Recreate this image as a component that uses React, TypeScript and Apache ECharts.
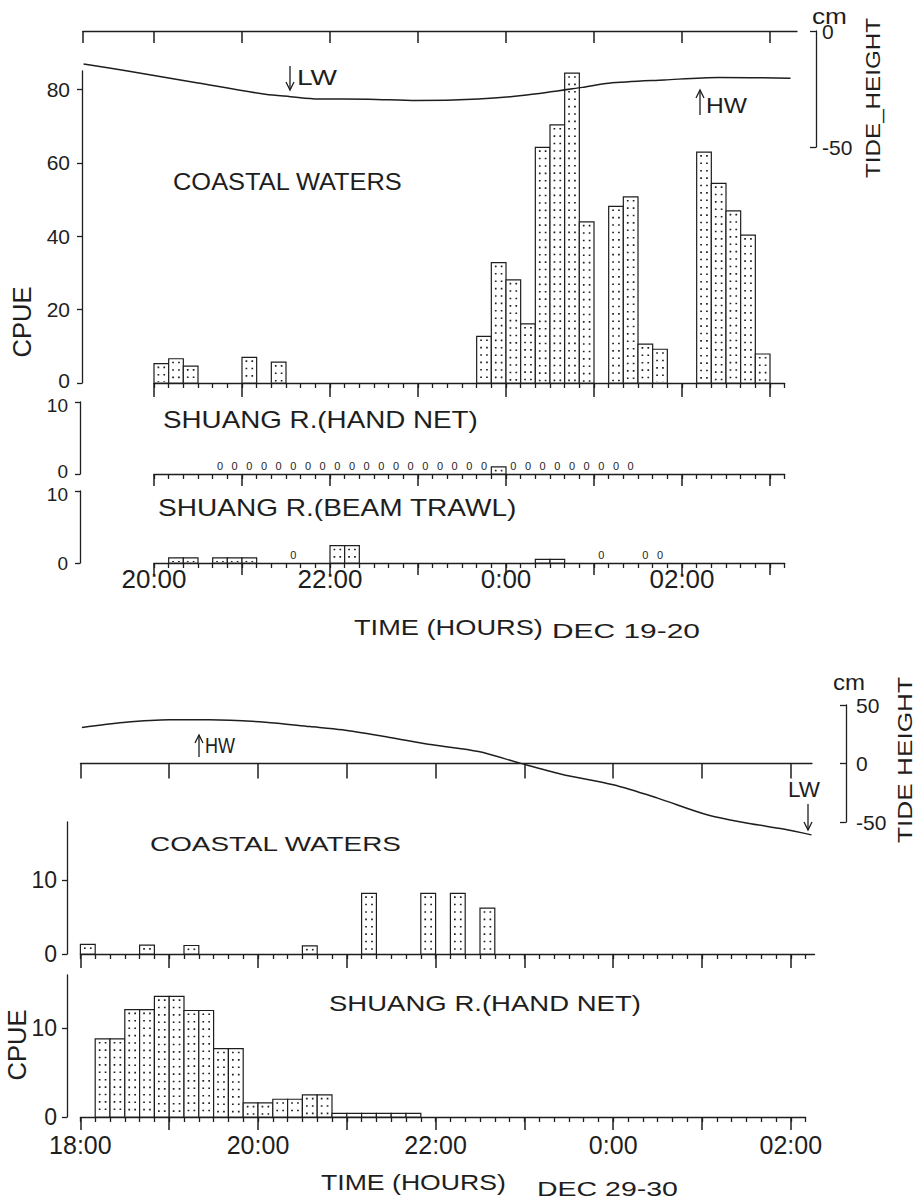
import React, { useEffect, useRef } from "react";
import * as echarts from "echarts";

const BIN = 10; // minutes per sampling bin

// ---------- DEC 19-20 (minutes after 20:00, 10-min bins) ----------
const coastalDec19 = [5.3, 6.6, 4.6, 0, 0, 0, 7.0, 0, 5.7, 0, 0, 0, 0, 0, 0, 0, 0, 0, 0, 0, 0, 0,
  12.7, 32.8, 28.1, 16.1, 64.2, 70.3, 84.4, 43.9, 0, 48.1, 50.7, 10.6, 9.2, 0, 0, 62.9, 54.4, 46.9, 40.3, 7.9];
const handNetDec19 = [null, null, null, null, 0, 0, 0, 0, 0, 0, 0, 0, 0, 0, 0, 0, 0, 0, 0, 0, 0, 0, 0,
  1.0, 0, 0, 0, 0, 0, 0, 0, 0, 0];
const beamTrawlDec19 = [null, 0.7, 0.7, null, 0.7, 0.7, 0.7, null, null, 0, null, null, 2.4, 2.4,
  null, null, null, null, null, null, null, null, null, null, null, null, 0.5, 0.5, null, null, 0, null, null, 0, 0];
const tideDec19Time = [-48, -19, 29, 76, 93, 112, 146, 179, 221, 254, 292, 310, 348, 385, 434];
const tideDec19Height = [-14.2, -17.1, -22.3, -27.3, -28.3, -29.3, -29.4, -30.0, -29.3, -27.6, -24.3, -22.5, -21.1, -20.0, -20.4];
const dec19Range = [0, 430];
const tideDec19Range = [-48.4, 438.4];
const dec19Hours = [0, 60, 120, 180, 240, 300, 360, 420];
const dec19LabelValues = [0, 120, 240, 360];
const dec19Labels = ["20:00", "22:00", "0:00", "02:00"];
const coastalDec19Ticks = [0, 20, 40, 60, 80];
const riverDec19Ticks = [0, 10];
const tideDec19Ticks = [-50, 0];

// ---------- DEC 29-30 (minutes after 18:00, 10-min bins) ----------
const coastalDec29 = [1.3, 0, 0, 0, 1.2, 0, 0, 1.15, 0, 0, 0, 0, 0, 0, 0, 1.1, 0, 0, 0, 8.2, 0, 0, 0, 8.2, 0, 8.2, 0, 6.2];
const handNetDec29 = [null, 8.8, 8.8, 12.1, 12.1, 13.6, 13.6, 12.0, 12.0, 7.7, 7.7, 1.6, 1.6, 2.0, 2.0, 2.5, 2.5,
  0.4, 0.4, 0.4, 0.4, 0.4, 0.4];
const tideDec29Time = [1, 29, 60, 87, 125, 155, 177, 208, 238, 269, 297, 325, 360, 390, 424, 451, 475, 494];
const tideDec29Height = [30.8, 35, 37.3, 37.3, 35.3, 31.6, 28.8, 22.5, 16, 10.3, 0.3, -9.1, -18.2, -29.6, -44, -51, -56, -61];
const coastalDec29Range = [0, 496];
const handDec29Range = [0, 490];
const tideDec29Range = [0, 494.3];
const dec29Hours = [0, 60, 120, 180, 240, 300, 360, 420, 480];
const dec29LabelValues = [0, 120, 240, 360, 480];
const dec29Labels = ["18:00", "20:00", "22:00", "0:00", "02:00"];
const dec29Ticks = [0, 10];
const tideDec29Ticks = [-50, 0, 50];

// ---------- styling ----------
const FONT = '"Liberation Sans", Arial, sans-serif';
const INK = "#1e1e1e";
const PX_TOP = 88 / 60;
const PX_BOT = 88.8 / 60;
const lineStyle = { color: INK, width: 1.3 };

function steps(a: number, b: number, s: number) {
  const r: number[] = [];
  for (let v = a; v <= b + 1e-9; v += s) r.push(v);
  return r;
}
function barData(arr: (number | null)[]) {
  const out: number[][] = [];
  arr.forEach((v, i) => { if (v != null && v > 0) out.push([i * BIN, v]); });
  return out;
}
function zeroData(arr: (number | null)[]) {
  const out: number[][] = [];
  arr.forEach((v, i) => { if (v === 0) out.push([i * BIN, 0]); });
  return out;
}

const barItem = (_p: any, api: any) => {
  const t = api.value(0), v = api.value(1);
  const a = api.coord([t, 0]);
  const b = api.coord([t + BIN, v]);
  const x = a[0], y = b[1], w = b[0] - a[0], h = a[1] - b[1];
  const children: any[] = [
    { type: "rect", shape: { x, y, width: w, height: h }, style: { fill: "#fff", stroke: INK, lineWidth: 1.2 } },
  ];
  if (h > 4) {
    [0.3, 0.7].forEach((f) => {
      children.push({
        type: "line",
        shape: { x1: x + w * f, y1: y + 3, x2: x + w * f, y2: a[1] - 1 },
        style: { stroke: INK, lineWidth: 1.7, lineDash: [1.6, 5.8] },
      });
    });
  }
  return { type: "group", children };
};

const zeroItem = (_p: any, api: any) => {
  const p = api.coord([api.value(0) + BIN / 2, 0]);
  return {
    type: "text",
    x: p[0],
    y: p[1] - 3,
    style: {
      text: "0", fontSize: 11, fontFamily: FONT, fill: INK,
      align: "center", verticalAlign: "bottom", textAlign: "center", textVerticalAlign: "bottom",
    },
  };
};

function minorAxis(gridIndex: number, range: number[]) {
  return {
    type: "value", gridIndex, min: range[0], max: range[1], position: "bottom",
    axisLine: { show: true, onZero: false, lineStyle },
    axisTick: { show: true, inside: false, length: 5, customValues: steps(range[0], range[1], BIN), lineStyle },
    axisLabel: { show: false }, splitLine: { show: false },
  };
}
function majorAxis(gridIndex: number, range: number[], hours: number[], len: number,
  labels?: { values: number[]; text: string[]; size: number; margin: number }) {
  return {
    type: "value", gridIndex, min: range[0], max: range[1], position: "bottom",
    axisLine: { show: false, onZero: false },
    axisTick: { show: true, inside: false, length: len, customValues: hours, lineStyle: { color: INK, width: 1.5 } },
    axisLabel: labels
      ? {
          show: true, customValues: labels.values,
          formatter: (v: number) => labels.text[labels.values.indexOf(Math.round(v))] ?? "",
          fontSize: labels.size, fontFamily: FONT, color: INK, margin: labels.margin,
        }
      : { show: false },
    splitLine: { show: false },
  };
}
function tideX(gridIndex: number, range: number[], ticks: number[], len: number) {
  return {
    type: "value", gridIndex, min: range[0], max: range[1], position: "bottom",
    axisLine: { show: true, onZero: true, lineStyle },
    axisTick: { show: true, inside: false, length: len, customValues: ticks, lineStyle: { color: INK, width: 1.5 } },
    axisLabel: { show: false }, splitLine: { show: false },
  };
}
// shiftLow: lift the "0" label; shiftHigh: lower the top label (keeps stacked panels' labels apart)
function leftY(gridIndex: number, max: number, ticks: number[], offset: number, size: number, margin: number,
  shiftLow = 0, shiftHigh = 0) {
  const top = ticks[ticks.length - 1];
  return {
    type: "value", gridIndex, min: 0, max, position: "left", offset,
    axisLine: { show: true, onZero: false, lineStyle },
    axisTick: { show: true, inside: false, length: 5, customValues: ticks, lineStyle },
    axisLabel: {
      show: true, customValues: ticks, fontSize: size, fontFamily: FONT, color: INK, margin,
      formatter: (v: number) => {
        const r = Math.round(v);
        if (r === 0 && shiftLow) return `{lo|${r}}`;
        if (r === top && shiftHigh) return `{hi|${r}}`;
        return `{n|${r}}`;
      },
      rich: {
        n: { fontSize: size, fontFamily: FONT, color: INK },
        lo: { fontSize: size, fontFamily: FONT, color: INK, padding: [0, 0, shiftLow * 2, 0] },
        hi: { fontSize: size, fontFamily: FONT, color: INK, padding: [shiftHigh * 2, 0, 0, 0] },
      },
    },
    splitLine: { show: false },
  };
}
function tideY(gridIndex: number, min: number, max: number, ticks: number[], offset: number, margin: number) {
  return {
    type: "value", gridIndex, min, max, position: "right", offset,
    axisLine: { show: true, onZero: false, lineStyle },
    axisTick: { show: true, inside: true, length: 6, customValues: ticks, lineStyle },
    axisLabel: { show: true, customValues: ticks, fontSize: 21, fontFamily: FONT, color: INK, margin },
    splitLine: { show: false },
  };
}

let measureCtx: CanvasRenderingContext2D | null = null;
function measure(text: string, size: number) {
  if (!measureCtx) measureCtx = document.createElement("canvas").getContext("2d");
  if (!measureCtx) return text.length * size * 0.6;
  measureCtx.font = `${size}px "Liberation Sans"`;
  return measureCtx.measureText(text).width;
}
function label(text: string, x: number, y: number, size: number, width?: number, rot?: boolean) {
  const sx = width ? width / measure(text, size) : 1;
  return {
    type: "text", x, y, rotation: rot ? Math.PI / 2 : 0, scaleX: sx, silent: true,
    style: {
      text, fontSize: size, fontFamily: FONT, fill: INK,
      textAlign: rot ? "center" : "left", textVerticalAlign: "middle",
      align: rot ? "center" : "left", verticalAlign: "middle",
    },
  };
}
function arrow(x: number, yTail: number, yHead: number) {
  const d = yHead > yTail ? -1 : 1;
  return [
    { type: "line", silent: true, shape: { x1: x, y1: yTail, x2: x, y2: yHead }, style: { stroke: INK, lineWidth: 1.3 } },
    {
      type: "polyline", silent: true,
      shape: { points: [[x - 4, yHead + d * 8], [x, yHead], [x + 4, yHead + d * 8]] },
      style: { stroke: INK, fill: "none", lineWidth: 1.3 },
    },
  ];
}

export default function App() {
  const ref = useRef<HTMLDivElement>(null);
  useEffect(() => {
    if (!ref.current) return;
    const chart = echarts.init(ref.current, null, { renderer: "svg" });
    const grid = [
      { left: 83, top: 31, width: (tideDec19Range[1] - tideDec19Range[0]) * PX_TOP, height: 116 },
      { left: 154, top: 71, width: (dec19Range[1] - dec19Range[0]) * PX_TOP, height: 312 },
      { left: 154, top: 402, width: (dec19Range[1] - dec19Range[0]) * PX_TOP, height: 72 },
      { left: 154, top: 491, width: (dec19Range[1] - dec19Range[0]) * PX_TOP, height: 72 },
      { left: 80.4, top: 705, width: (tideDec29Range[1] - tideDec29Range[0]) * PX_BOT, height: 117 },
      { left: 80.4, top: 822, width: (coastalDec29Range[1] - coastalDec29Range[0]) * PX_BOT, height: 132 },
      { left: 80.4, top: 975, width: (handDec29Range[1] - handDec29Range[0]) * PX_BOT, height: 142 },
    ].map((g) => ({ ...g, containLabel: false, outerBoundsMode: "none", show: false }));

    const xAxis = [
      tideX(0, tideDec19Range, [tideDec19Range[0], ...dec19Hours], 12),
      minorAxis(1, dec19Range),
      majorAxis(1, dec19Range, dec19Hours, 14),
      minorAxis(2, dec19Range),
      majorAxis(2, dec19Range, dec19Hours, 12),
      minorAxis(3, dec19Range),
      majorAxis(3, dec19Range, dec19Hours, 12, { values: dec19LabelValues, text: dec19Labels, size: 26, margin: 3 }),
      tideX(4, tideDec29Range, dec29Hours, 15),
      minorAxis(5, coastalDec29Range),
      majorAxis(5, coastalDec29Range, dec29Hours, 14),
      minorAxis(6, handDec29Range),
      majorAxis(6, handDec29Range, dec29Hours, 13, { values: dec29LabelValues, text: dec29Labels, size: 25, margin: 15 }),
    ];
    const yAxis = [
      tideY(0, -50, 0, tideDec19Ticks, 19, 6),
      leftY(1, 85, coastalDec19Ticks, 72, 21, 12, 3, 0),
      leftY(2, 10, riverDec19Ticks, 74, 19, 12, 3, 3),
      leftY(3, 10, riverDec19Ticks, 74, 19, 12, 0, 3),
      tideY(4, -50, 50, tideDec29Ticks, 34, 10),
      leftY(5, 17.84, dec29Ticks, 13.4, 23, 10),
      leftY(6, 16.0, dec29Ticks, 13.4, 23, 10),
    ];
    const tideLine = (xi: number, yi: number, ts: number[], hs: number[]) => ({
      type: "line", xAxisIndex: xi, yAxisIndex: yi, z: 5,
      data: ts.map((t, i) => [t, hs[i]]), smooth: 0.3, symbol: "none", showSymbol: false,
      lineStyle: { color: INK, width: 1.5 }, clip: false, silent: true,
    });
    const series = [
      tideLine(0, 0, tideDec19Time, tideDec19Height),
      { type: "custom", xAxisIndex: 1, yAxisIndex: 1, data: barData(coastalDec19), renderItem: barItem, silent: true },
      { type: "custom", xAxisIndex: 3, yAxisIndex: 2, data: barData(handNetDec19), renderItem: barItem, silent: true },
      { type: "custom", xAxisIndex: 3, yAxisIndex: 2, data: zeroData(handNetDec19), renderItem: zeroItem, silent: true },
      { type: "custom", xAxisIndex: 5, yAxisIndex: 3, data: barData(beamTrawlDec19), renderItem: barItem, silent: true },
      { type: "custom", xAxisIndex: 5, yAxisIndex: 3, data: zeroData(beamTrawlDec19), renderItem: zeroItem, silent: true },
      tideLine(7, 4, tideDec29Time, tideDec29Height),
      { type: "custom", xAxisIndex: 8, yAxisIndex: 5, data: barData(coastalDec29), renderItem: barItem, silent: true },
      { type: "custom", xAxisIndex: 10, yAxisIndex: 6, data: barData(handNetDec29), renderItem: barItem, silent: true },
    ];
    const graphic = [
      label("COASTAL WATERS", 173, 182, 23, 230),
      label("SHUANG R.(HAND NET)", 163, 420, 23, 315),
      label("SHUANG R.(BEAM TRAWL)", 158, 508, 23, 359),
      label("TIME (HOURS)", 354, 627, 22, 189),
      label("DEC 19-20", 552, 631, 21, 148),
      ...arrow(290, 66, 90),
      label("LW", 297, 77, 22, 40),
      ...arrow(700, 115, 90),
      label("HW", 706, 105, 22, 41),
      label("cm", 812, 16, 22, 35),
      label("TIDE_HEIGHT", 873, 98, 21, 160, true),
      label("CPUE", 22, 322, 25, 71, true),
      ...arrow(199, 757, 735),
      label("HW", 205, 745, 22, 30),
      label("LW", 788, 790, 22, 32),
      ...arrow(808, 804, 830),
      label("cm", 833, 682, 22, 32),
      label("TIDE HEIGHT", 905, 760, 21, 166, true),
      label("COASTAL WATERS", 150, 844, 21, 252),
      label("SHUANG R.(HAND NET)", 329, 1003, 23, 312),
      label("CPUE", 17, 1045, 25, 71, true),
      label("TIME (HOURS)", 321, 1182, 22, 185),
      label("DEC 29-30", 537, 1188, 21, 141),
    ];
    chart.setOption({
      animation: false,
      backgroundColor: "#ffffff",
      grid, xAxis, yAxis, series, graphic,
    });
    return () => chart.dispose();
  }, []);
  return (
    <div
      ref={ref}
      style={{ position: "absolute", left: 0, top: 0, width: 918, height: 1201, background: "#fff" }}
    />
  );
}
